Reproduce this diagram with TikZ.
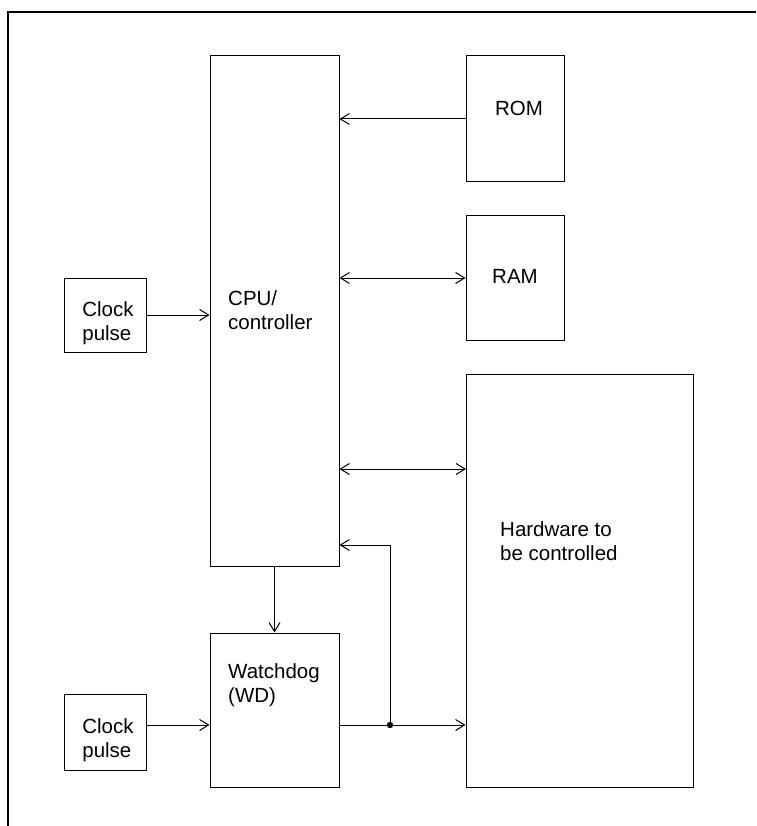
\documentclass[tikz,border=0pt]{standalone}
\usepackage{fontspec}
\setmainfont{Liberation Sans}
\usetikzlibrary{arrows.meta}

\begin{document}
\begin{tikzpicture}[x=1pt,y=-1pt,
        blk/.style={rectangle,draw=black,line width=1pt,inner sep=0pt},
        txt/.style={align=left,inner sep=0pt,
                    font=\fontsize{20.5}{24}\selectfont},
        con/.style={line width=1pt,
                    >={Straight Barb[length=9pt,width=11pt]}}]
    \useasboundingbox (0,0) rectangle (756,826);
    \draw[line width=2pt] (756,12) -- (8,12) -- (8,826);

    \node[blk,minimum width=129,minimum height=510] (cpu) at (274.5,311) {};
    \node[blk,minimum width=98,minimum height=126] (rom) at (515,119) {};
    \node[blk,minimum width=98,minimum height=124] (ram) at (515,278) {};
    \node[blk,minimum width=227,minimum height=413] (hw) at (579.5,580.5) {};
    \node[blk,minimum width=82,minimum height=74] (clka) at (105,315) {};
    \node[blk,minimum width=129,minimum height=154] (wd) at (274.5,710) {};
    \node[blk,minimum width=82,minimum height=76] (clkb) at (105,732) {};

    \node[txt,anchor=west] (cputxt) at (228,310) {CPU/\\controller};
    \node[txt] (romtxt) at (519,108) {ROM};
    \node[txt] (ramtxt) at (515,276) {RAM};
    \node[txt,anchor=west] (hwtxt) at (500,541) {Hardware to\\be controlled};
    \node[txt] (clkatxt) at (108,323) {Clock\\pulse};
    \node[txt,anchor=west] (wdtxt) at (228,685) {Watchdog\\(WD)};
    \node[txt] (clkbtxt) at (108,740) {Clock\\pulse};

    \coordinate (hwin) at (466,469);
    \coordinate (jn) at (390,725);
    \coordinate (fb) at (390,545);

    \draw[con,->] (rom.west) -- (cpu.east |- rom.west);
    \draw[con,<->] (cpu.east |- ram.west) -- (ram.west);
    \draw[con,->] (clka.east) -- (cpu.west |- clka.east);
    \draw[con,<->] (cpu.east |- hwin) -- (hwin);
    \draw[con,->] (cpu) -- (wd);
    \draw[con,->] (clkb.east |- jn) -- (wd.west |- jn);
    \draw[con,->] (wd.east |- jn) -- (hw.west |- jn);
    \draw[con,->] (jn) -- (fb) -- (cpu.east |- fb);
    \fill (jn) circle (3.2);
\end{tikzpicture}
\end{document}
